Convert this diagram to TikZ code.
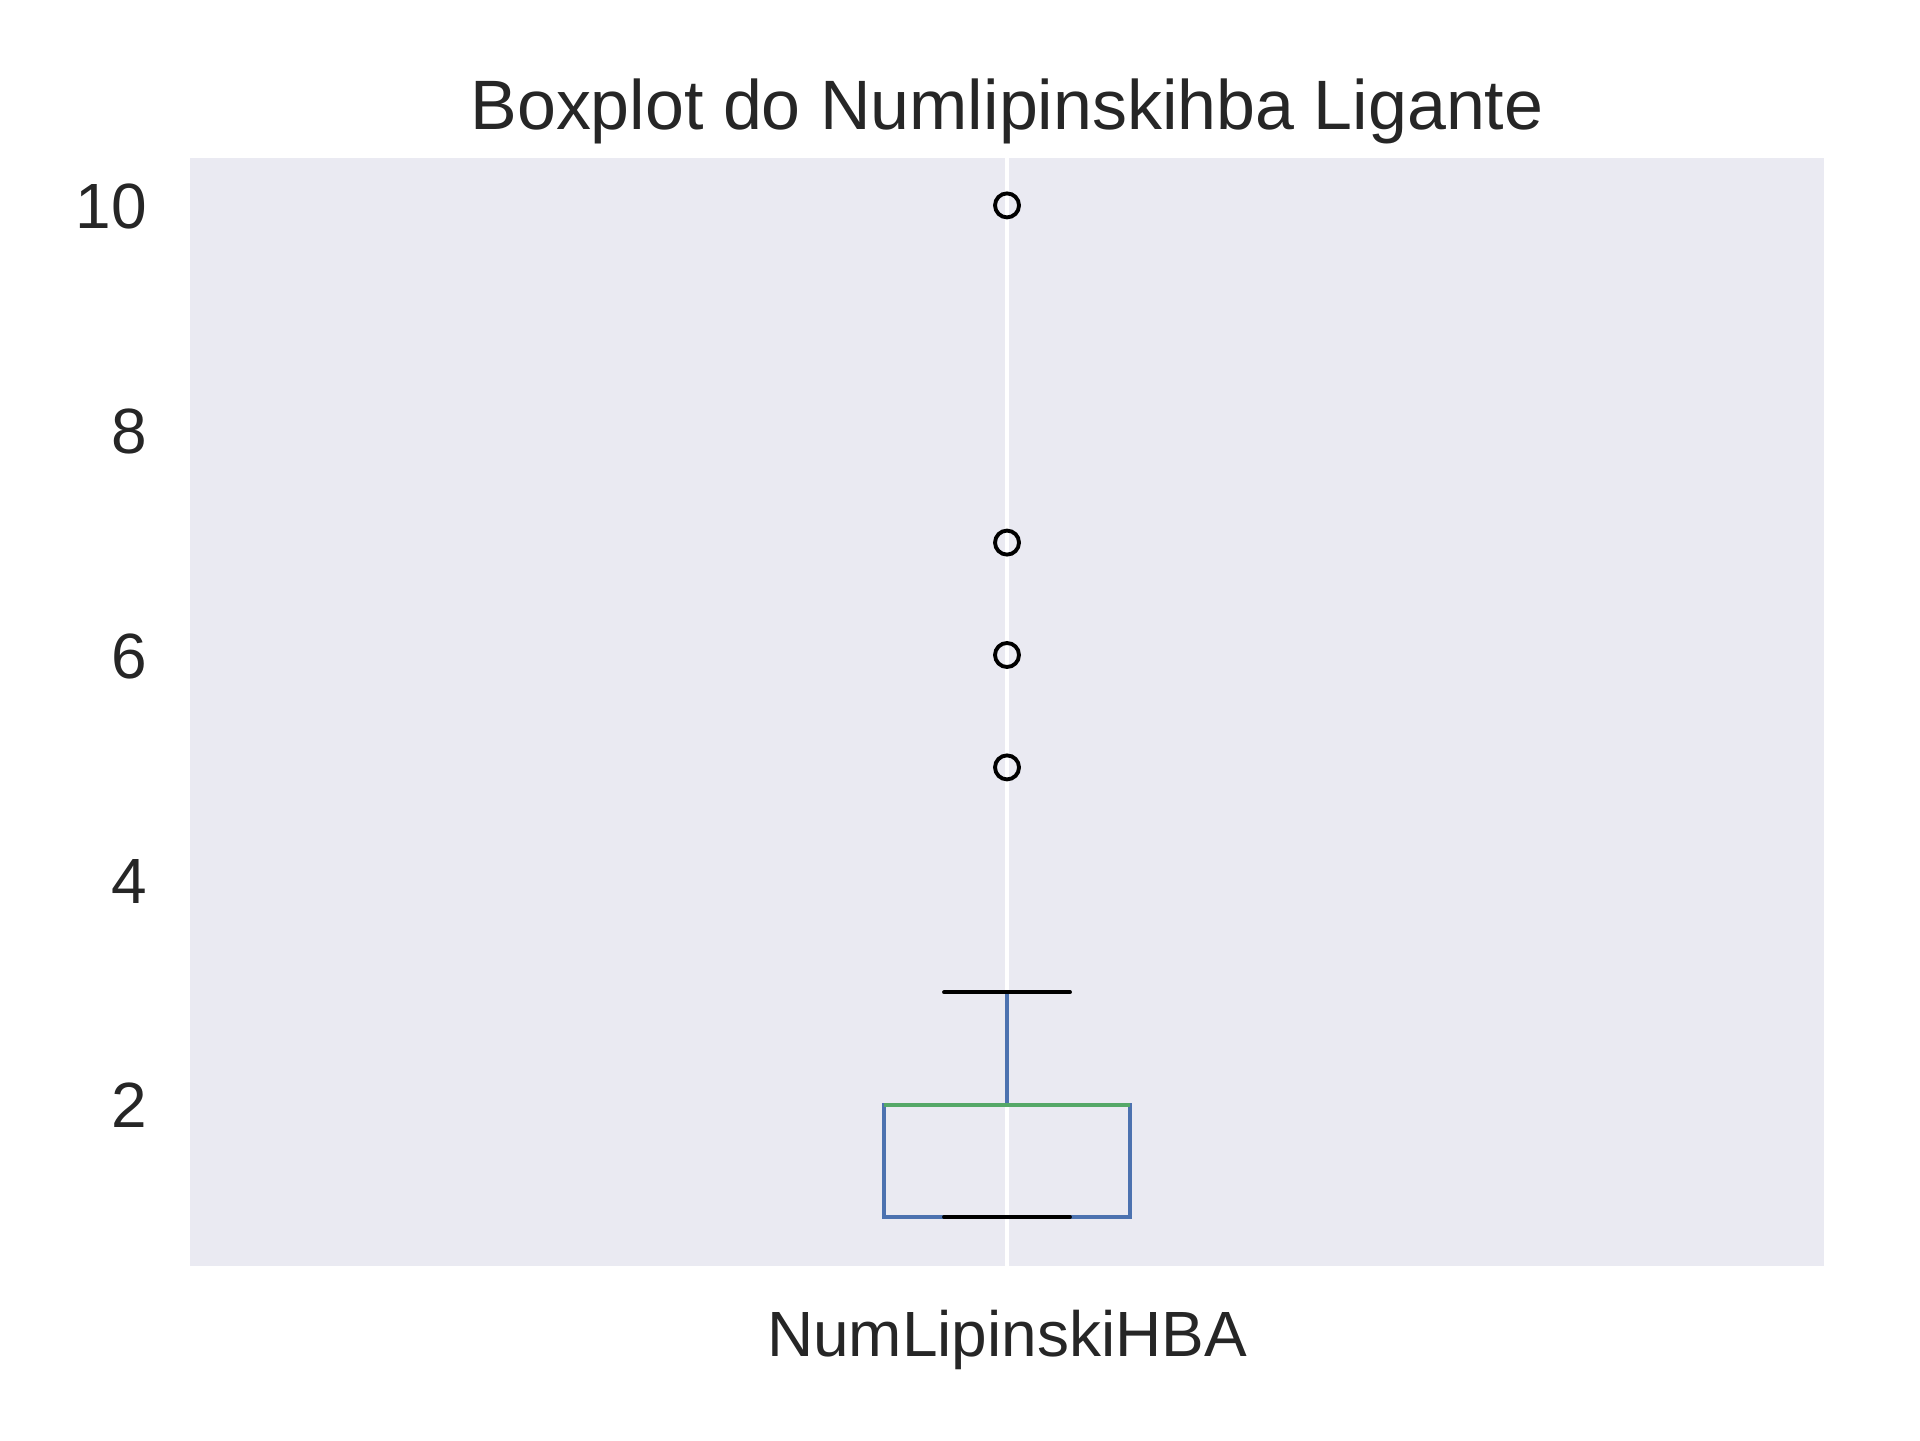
\documentclass[tikz,border=0pt]{standalone}
\usepackage{fontspec}
\setmainfont{Liberation Sans}
\usetikzlibrary{positioning}
\definecolor{axbg}{HTML}{EAEAF2}
\definecolor{txt}{HTML}{262626}
\definecolor{boxblue}{HTML}{4C72B0}
\definecolor{medgreen}{HTML}{55A868}
\tikzset{
  ticklabel/.style={
    text=txt,
    inner sep=0pt,
    font=\fontsize{18.2pt}{22pt}\selectfont
  },
  boxline/.style={draw=boxblue, line width=1pt},
  capline/.style={draw=black, line width=1.1pt, line cap=round},
  medianline/.style={draw=medgreen, line width=1.1pt},
  flier/.style={
    circle,
    draw=black,
    line width=1.1pt,
    minimum size=0.24cm,
    inner sep=0pt
  }
}

\begin{document}
\begin{tikzpicture}
  \useasboundingbox (0,0) rectangle (19.2,14.4);
  % axes area
  \fill[axbg] (1.90,1.74) rectangle (18.24,12.82);
  \draw[white, line width=1.15pt] (10.07,1.74) -- (10.07,12.82);

  \node[text=txt, inner sep=0pt, anchor=base,
        font=\fontsize{19.9pt}{24pt}\selectfont] (title) at (10.07,13.10)
        {Boxplot do Numlipinskihba Ligante};
  \node[ticklabel, anchor=base] (xlab) at (10.07,0.84) {NumLipinskiHBA};

  \begin{scope}[shift={(0,1.106)}, y=1.124cm]
    % y ticks
    \foreach \v in {2,4,6,8,10}
      \node[ticklabel, anchor=base east, yshift=-0.233cm] (tick\v) at (1.475,\v) {\v};

    % box and whiskers
    \coordinate (q1l) at (8.84,1);
    \coordinate (q3r) at (11.30,2);
    \coordinate (q3l) at (8.84,2);
    \coordinate (mid) at (10.07,2);
    \coordinate (whi) at (10.07,3);
    \draw[boxline] (q1l) rectangle (q3r);
    \draw[boxline] (mid) -- (whi);
    \draw[medianline] (q3l) -- (q3r);
    \draw[capline] (9.44,3) -- (10.70,3);
    \draw[capline] (9.44,1) -- (10.70,1);

    % outliers
    \foreach \v in {5,6,7,10}
      \node[flier] (flier\v) at (10.07,\v) {};
  \end{scope}
\end{tikzpicture}
\end{document}
